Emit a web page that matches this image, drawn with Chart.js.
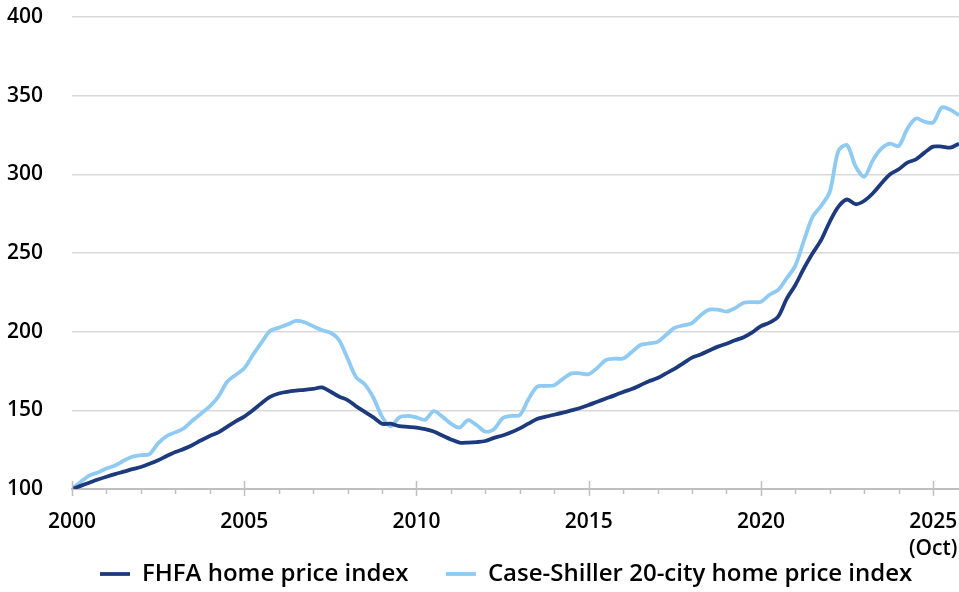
<!DOCTYPE html>
<html>
<head>
<meta charset="utf-8">
<script src="https://cdn.jsdelivr.net/npm/chart.js@4"></script>
<style>
  html, body { margin: 0; padding: 0; background: #fff; }
</style>
</head>
<body>
<canvas id="myChart" width="959" height="592"></canvas>
<script>
// quarterly readings, 2000 Q1 .. 2025 Q4 (Oct)
const startYear = 2000;
const fhfa = [
  100, 102, 104, 106,
  107.8, 109.5, 111, 112.6,
  114, 116, 118.3, 121,
  123.5, 125.5, 128, 131,
  133.7, 136, 139.5, 143,
  146, 150, 154.5, 158.5,
  160.7, 161.8, 162.5, 163,
  163.6, 164.6, 162, 158.8,
  156.5, 152.5, 149, 145.5,
  141.5, 141.5, 140, 139.5,
  139, 138, 136.5, 134,
  131.5, 129.5, 129.5, 129.8,
  130.5, 132.5, 134, 136,
  138.5, 141.5, 144.5, 146,
  147.2, 148.5, 150, 151.5,
  153.4, 155.5, 157.5, 159.5,
  161.7, 163.5, 166, 168.5,
  170.5, 173.5, 176.5, 180,
  183.5, 185.5, 188, 190.5,
  192.3, 194.5, 196.5, 199.5,
  203.5, 205.7, 209.5, 221,
  229.7, 240.3, 249.8, 258.3,
  270, 279.5, 284, 281,
  283.2, 288, 294.3, 300,
  303.2, 307.4, 309.5, 313.8,
  317.6, 317.6, 317, 319.5
];
const caseShiller = [
  100, 104.5, 108.5, 110.5,
  113, 115, 118, 120.5,
  121.5, 122.2, 129, 133.7,
  136, 138.6, 143.5, 148,
  152.5, 158.7, 168, 172.5,
  176.7, 185.2, 193, 200.5,
  202.5, 204.5, 206.8, 206,
  203.5, 201, 199.4, 194.7,
  183, 171, 166.5, 158,
  146, 139.8, 145.5, 146.5,
  145.5, 144, 149.5, 146,
  141.5, 139, 143.8, 140.5,
  136.5, 138, 145, 146.5,
  147, 157, 165, 165.5,
  166, 170, 173.5, 173.5,
  173, 177, 182, 182.8,
  183, 187, 191.5, 192.5,
  193.5, 198, 202.5, 204,
  205.5, 210.5, 214, 214,
  212.8, 215, 218.4, 218.8,
  219, 223.5, 226.5, 234,
  242, 258, 273, 280,
  289, 315, 318.5, 305,
  298.5, 309, 316.5, 319.5,
  318, 329, 335.5, 333.5,
  333, 342.5, 341, 337.5
];
const quarters = fhfa.map((v, i) => startYear + i / 4);
const xLabels = { 2000: '2000', 2005: '2005', 2010: '2010', 2015: '2015', 2020: '2020', 2025: ['2025', '(Oct)'] };

const darkBlue = '#1c3a7c';
const lightBlue = '#8ecaf2';
const axisGray = '#bfbfbf';
const fontFamily = '"Open Sans", "DejaVu Sans", sans-serif';

// year ticks on the x axis: long ones every 5 years, short ones in between
const yearTicks = {
  id: 'yearTicks',
  afterDraw(chart) {
    const x = chart.scales.x, y = chart.scales.y;
    const ctx = chart.ctx;
    const base = y.getPixelForValue(100);
    ctx.save();
    ctx.strokeStyle = axisGray;
    ctx.lineWidth = 1.5;
    for (let yr = 2000; yr <= 2025; yr++) {
      const px = Math.round(x.getPixelForValue(yr)) + 0.5;
      const major = yr % 5 === 0;
      ctx.beginPath();
      ctx.moveTo(px, major ? base - 8 : base);
      ctx.lineTo(px, base + (major ? 7 : 5));
      ctx.stroke();
    }
    ctx.restore();
  }
};

// spacing after each legend entry (Chart.js puts no gap other than padding)
const legendGap = ['      ', '   '];

const config = {
  type: 'line',
  data: {
    datasets: [{
      label: 'FHFA home price index',
      data: quarters.map((q, i) => ({ x: q, y: fhfa[i] })),
      borderColor: darkBlue,
      backgroundColor: darkBlue,
      borderWidth: 3.8,
      pointRadius: 0,
      tension: 0.3
    }, {
      label: 'Case-Shiller 20-city home price index',
      data: quarters.map((q, i) => ({ x: q, y: caseShiller[i] })),
      borderColor: lightBlue,
      backgroundColor: lightBlue,
      borderWidth: 3.8,
      pointRadius: 0,
      tension: 0.3
    }]
  },
  options: {
    responsive: false,
    animation: false,
    layout: { padding: { top: 17, left: 0, right: 0, bottom: -4 } },
    plugins: {
      tooltip: { enabled: false },
      legend: {
        position: 'bottom',
        fullSize: false,
        labels: {
          usePointStyle: true,
          pointStyle: 'line',
          pointStyleWidth: 30,
          padding: 0,
          color: '#000',
          font: { family: fontFamily, size: 24, weight: '600' },
          generateLabels: (chart) => Chart.defaults.plugins.legend.labels.generateLabels(chart)
            .map((item, i) => Object.assign(item, { text: item.text + legendGap[i] }))
        }
      }
    },
    scales: {
      x: {
        type: 'linear',
        min: 2000,
        max: 2025.75,
        afterFit: (s) => { s.height = 73; },
        grid: { display: false, drawTicks: true, tickLength: 19 },
        border: { color: axisGray, width: 2 },
        ticks: {
          stepSize: 5,
          includeBounds: false,
          autoSkip: false,
          maxRotation: 0,
          padding: 0,
          color: '#000',
          font: { family: fontFamily, size: 21, weight: '600', lineHeight: 1.3 },
          callback: (v) => xLabels[v] || ''
        }
      },
      y: {
        min: 100,
        max: 400,
        afterFit: (s) => { s.width = 72; },
        grid: { color: '#d9d9d9', lineWidth: 1.5, drawTicks: true, tickLength: 29, tickColor: 'rgba(0,0,0,0)' },
        border: { display: false },
        ticks: {
          stepSize: 50,
          padding: 0,
          color: '#000',
          font: { family: fontFamily, size: 21, weight: '600' }
        }
      }
    }
  },
  plugins: [yearTicks]
};

const myChart = new Chart(document.getElementById('myChart'), config);
</script>
</body>
</html>
